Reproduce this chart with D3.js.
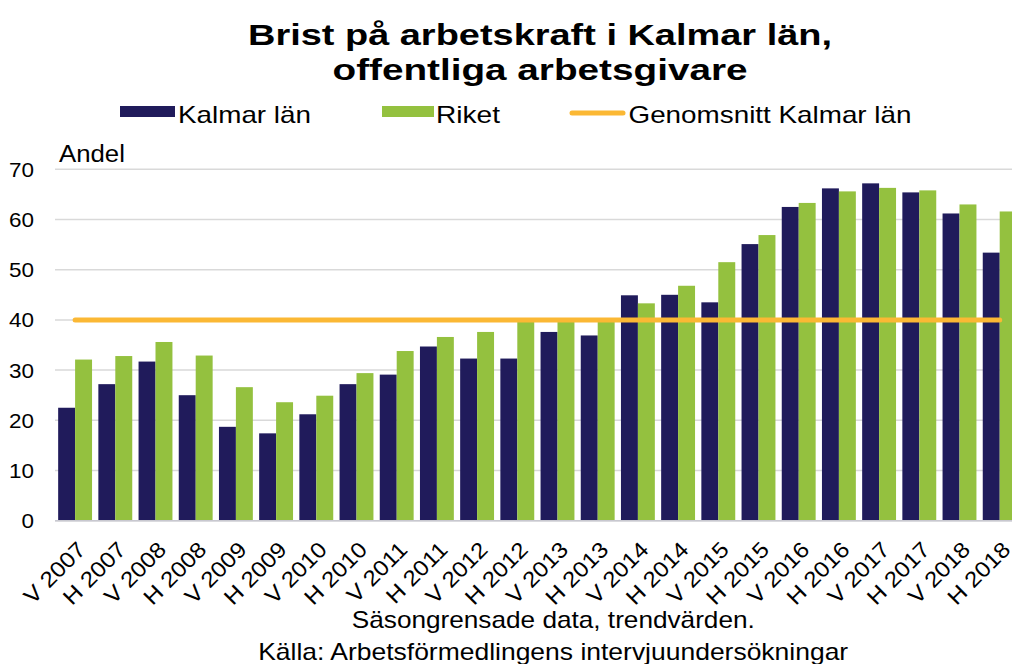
<!DOCTYPE html>
<html>
<head>
<meta charset="utf-8">
<script src="https://cdn.jsdelivr.net/npm/d3@7"></script>
<style>
  html, body { margin: 0; padding: 0; background: #fff; }
  svg { display: block; font-family: 'Liberation Sans', Arial, sans-serif; }
</style>
</head>
<body>
<svg id="chart"></svg>
<script>
const width = 1012
const height = 664

const categories = [
  'V 2007', 'H 2007', 'V 2008', 'H 2008', 'V 2009', 'H 2009',
  'V 2010', 'H 2010', 'V 2011', 'H 2011', 'V 2012', 'H 2012',
  'V 2013', 'H 2013', 'V 2014', 'H 2014', 'V 2015', 'H 2015',
  'V 2016', 'H 2016', 'V 2017', 'H 2017', 'V 2018', 'H 2018',
]
const kalmar = [
  22.5, 27.2, 31.7, 25.0, 18.7, 17.4, 21.2, 27.2, 29.1, 34.7, 32.3, 32.3,
  37.6, 36.9, 44.9, 45.0, 43.5, 55.1, 62.5, 66.2, 67.2, 65.4, 61.2, 53.4,
]
const riket = [
  32.1, 32.8, 35.6, 32.9, 26.6, 23.6, 24.9, 29.4, 33.8, 36.6, 37.6, 39.8,
  39.6, 39.7, 43.3, 46.8, 51.5, 56.9, 63.3, 65.6, 66.3, 65.8, 63.0, 61.6,
]
const kalmarAvg = 40
const yTicks = [0, 10, 20, 30, 40, 50, 60, 70]

const colors = { kalmar: '#201b5b', riket: '#94c13f', avg: '#fbb834' }

const svg = d3.select('#chart').attr('width', width).attr('height', height)

// the source text is a bit wider than Liberation Sans, stretch it to fit
const stretch = (sel, factor) =>
  sel.each(function () {
    const w = this.getComputedTextLength()
    d3.select(this).attr('textLength', w * factor).attr('lengthAdjust', 'spacingAndGlyphs')
  })

const x = d3
  .scaleBand()
  .domain(categories)
  .range([55, 55 + 24 * 40.2])
  .paddingInner(0.157)
  .paddingOuter(0.0785)

const xSub = d3
  .scaleBand()
  .domain(['kalmar', 'riket'])
  .range([0, x.bandwidth()])

const y = d3.scaleLinear().domain([0, 70]).range([520.7, 169.3])

// gridlines
svg
  .append('g')
  .selectAll('line')
  .data(yTicks)
  .join('line')
  .attr('x1', 55)
  .attr('x2', width)
  .attr('y1', d => y(d))
  .attr('y2', d => y(d))
  .attr('stroke', '#d9d9d9')
  .attr('stroke-width', 1.5)

// y tick labels
svg
  .append('g')
  .selectAll('text')
  .data(yTicks)
  .join('text')
  .attr('x', 34)
  .attr('y', d => y(d))
  .attr('dy', '0.36em')
  .attr('text-anchor', 'end')
  .attr('font-size', 21)
  .text(d => d)
  .call(stretch, 1.07)

svg
  .append('text')
  .attr('x', 59)
  .attr('y', 161.5)
  .attr('font-size', 23)
  .text('Andel')
  .call(stretch, 1.12)

// bars
const rows = categories.map((c, i) => ({ c, kalmar: kalmar[i], riket: riket[i] }))

const groups = svg
  .append('g')
  .selectAll('g')
  .data(rows)
  .join('g')
  .attr('transform', d => `translate(${x(d.c)},0)`)

groups
  .selectAll('rect')
  .data(d => ['kalmar', 'riket'].map(k => ({ k, v: d[k] })))
  .join('rect')
  .attr('x', d => xSub(d.k))
  .attr('width', xSub.bandwidth())
  .attr('y', d => y(d.v))
  .attr('height', d => y(0) - y(d.v))
  .attr('fill', d => colors[d.k])

// baseline
svg
  .append('line')
  .attr('x1', 55)
  .attr('x2', width)
  .attr('y1', y(0))
  .attr('y2', y(0))
  .attr('stroke', '#c8c8d0')
  .attr('stroke-width', 1.5)

// average line
const line = d3
  .line()
  .x(d => x(d) + x.bandwidth() / 2)
  .y(() => y(kalmarAvg))

svg
  .append('path')
  .datum([categories[0], categories[categories.length - 1]])
  .attr('d', line)
  .attr('fill', 'none')
  .attr('stroke', colors.avg)
  .attr('stroke-width', 5)
  .attr('stroke-linecap', 'round')

// x tick labels
svg
  .append('g')
  .selectAll('text')
  .data(categories)
  .join('text')
  .attr('transform', d => `translate(${x(d) + x.bandwidth() / 2 + 12},551) rotate(-45)`)
  .attr('text-anchor', 'end')
  .attr('font-size', 22)
  .text(d => d)
  .call(stretch, 1.1)

// title
svg
  .append('text')
  .attr('x', 540)
  .attr('y', 45)
  .attr('text-anchor', 'middle')
  .attr('font-size', 29)
  .attr('font-weight', 'bold')
  .attr('textLength', 584)
  .attr('lengthAdjust', 'spacingAndGlyphs')
  .text('Brist på arbetskraft i Kalmar län,')

svg
  .append('text')
  .attr('x', 540)
  .attr('y', 79.5)
  .attr('text-anchor', 'middle')
  .attr('font-size', 29)
  .attr('font-weight', 'bold')
  .attr('textLength', 415)
  .attr('lengthAdjust', 'spacingAndGlyphs')
  .text('offentliga arbetsgivare')

// legend
const legend = svg.append('g').attr('font-size', 24)

legend.append('rect').attr('x', 120).attr('y', 106).attr('width', 55).attr('height', 11).attr('fill', colors.kalmar)
legend.append('text').attr('x', 178).attr('y', 123.3).attr('textLength', 133).text('Kalmar län')

legend.append('rect').attr('x', 382).attr('y', 106).attr('width', 52).attr('height', 11).attr('fill', colors.riket)
legend.append('text').attr('x', 436).attr('y', 123.3).attr('textLength', 64).text('Riket')

legend
  .append('line')
  .attr('x1', 572)
  .attr('x2', 623)
  .attr('y1', 113)
  .attr('y2', 113)
  .attr('stroke', colors.avg)
  .attr('stroke-width', 5)
  .attr('stroke-linecap', 'round')
legend.append('text').attr('x', 628.5).attr('y', 123.3).attr('textLength', 283).text('Genomsnitt Kalmar län')

legend.selectAll('text').attr('lengthAdjust', 'spacingAndGlyphs')

// footnotes
svg
  .append('text')
  .attr('x', 553.3)
  .attr('y', 627.7)
  .attr('text-anchor', 'middle')
  .attr('font-size', 24)
  .attr('textLength', 403)
  .attr('lengthAdjust', 'spacingAndGlyphs')
  .text('Säsongrensade data, trendvärden.')

svg
  .append('text')
  .attr('x', 553.2)
  .attr('y', 660.3)
  .attr('text-anchor', 'middle')
  .attr('font-size', 24)
  .attr('textLength', 590)
  .attr('lengthAdjust', 'spacingAndGlyphs')
  .text('Källa: Arbetsförmedlingens intervjuundersökningar')
</script>
</body>
</html>
